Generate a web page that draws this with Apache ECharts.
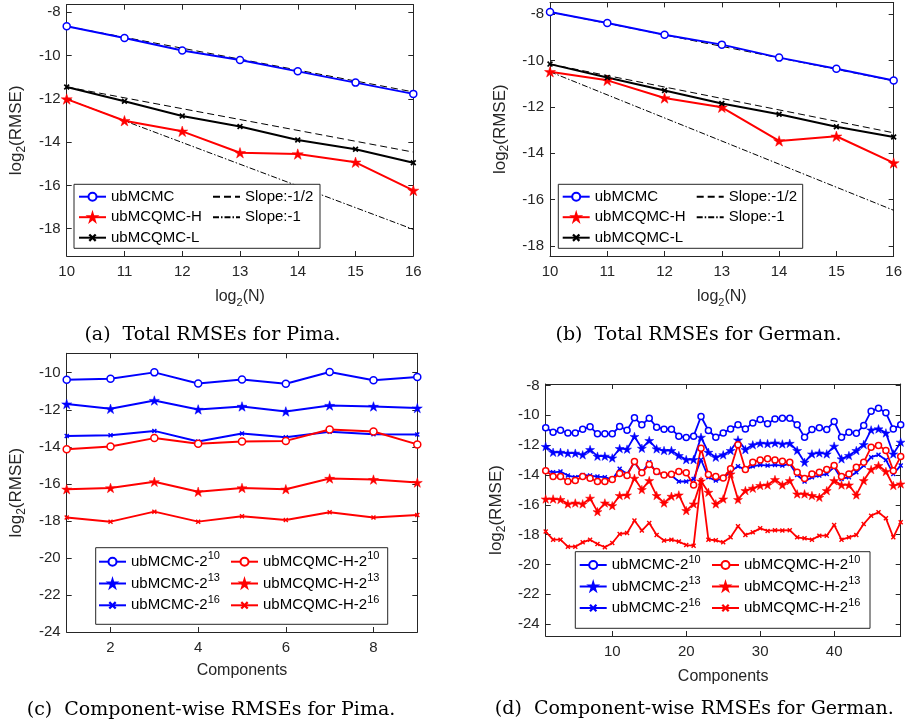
<!DOCTYPE html>
<html><head><meta charset="utf-8">
<script src="https://cdn.jsdelivr.net/npm/echarts@6/dist/echarts.min.js"></script>
<style>html,body{margin:0;padding:0;background:#fff}#c{width:905px;height:726px}</style>
</head><body><div id="c"></div>
<script>
// ---------------- data ----------------
const xN = [10, 11, 12, 13, 14, 15, 16];
const pimaMCMC = [-8.65, -9.19, -9.77, -10.20, -10.73, -11.25, -11.77];
const pimaQMCH = [-12.01, -13.01, -13.50, -14.49, -14.55, -14.93, -16.23];
const pimaQMCL = [-11.45, -12.11, -12.79, -13.28, -13.90, -14.33, -14.95];
const slopeX = [10, 16];
const pimaSlopeHalfA = [-8.65, -11.68];
const pimaSlopeHalfB = [-11.45, -14.46];
const pimaSlopeOne = [-12.01, -18.03];

const germanMCMC = [-7.91, -8.39, -8.89, -9.32, -9.88, -10.36, -10.87];
const germanQMCH = [-10.49, -10.86, -11.62, -12.02, -13.47, -13.27, -14.42];
const germanQMCL = [-10.16, -10.74, -11.30, -11.86, -12.32, -12.86, -13.30];
const germanSlopeHalfA = [-7.91, -10.88];
const germanSlopeHalfB = [-10.16, -13.12];
const germanSlopeOne = [-10.49, -16.46];

const pimaComp = [1, 2, 3, 4, 5, 6, 7, 8, 9];
const pimaMC10 = [-10.38, -10.32, -9.98, -10.58, -10.36, -10.59, -9.96, -10.40, -10.23];
const pimaMC13 = [-11.69, -11.95, -11.50, -11.98, -11.82, -12.09, -11.77, -11.82, -11.91];
const pimaMC16 = [-13.41, -13.37, -13.14, -13.71, -13.28, -13.48, -13.19, -13.32, -13.33];
const pimaQH10 = [-14.13, -13.98, -13.53, -13.84, -13.71, -13.68, -13.06, -13.17, -13.87];
const pimaQH13 = [-16.29, -16.22, -15.89, -16.43, -16.22, -16.29, -15.71, -15.77, -15.93];
const pimaQH16 = [-17.82, -18.04, -17.50, -18.04, -17.75, -17.95, -17.53, -17.82, -17.68];

const germanComp = [1,2,3,4,5,6,7,8,9,10,11,12,13,14,15,16,17,18,19,20,21,22,23,24,25,26,27,28,29,30,31,32,33,34,35,36,37,38,39,40,41,42,43,44,45,46,47,48,49];
const germanMC10 = [-10.84,-11.13,-11.00,-11.18,-11.18,-10.93,-10.77,-11.24,-11.24,-11.24,
  -10.75,-11.00,-10.17,-10.64,-10.19,-10.80,-10.93,-10.93,-11.40,-11.49,
  -11.40,-10.08,-11.02,-11.47,-11.18,-10.91,-10.64,-10.91,-10.51,-10.28,
  -10.57,-10.24,-10.19,-10.19,-10.64,-11.47,-10.95,-10.84,-10.95,-10.42,
  -11.47,-11.13,-11.20,-10.69,-9.72,-9.52,-9.83,-10.91,-10.64];
const germanMC13 = [-12.09,-12.48,-12.48,-12.54,-12.54,-12.65,-12.30,-12.74,-12.74,-12.86,
  -12.23,-12.27,-11.42,-12.21,-11.69,-12.25,-12.36,-12.36,-12.70,-12.97,
  -12.97,-11.47,-12.48,-12.81,-12.65,-12.36,-11.65,-12.30,-11.98,-11.87,
  -11.90,-11.85,-11.92,-11.88,-12.36,-13.15,-12.59,-12.52,-12.59,-12.07,
  -12.92,-12.70,-12.36,-11.96,-10.98,-10.91,-11.18,-12.59,-11.80];
const germanMC16 = [-13.71,-13.82,-13.77,-14.04,-14.15,-14.00,-14.04,-14.11,-14.15,-14.31,
  -13.59,-13.93,-13.15,-13.86,-13.15,-13.86,-13.97,-14.04,-14.44,-14.44,
  -14.27,-12.98,-14.15,-14.38,-14.22,-13.77,-13.42,-13.64,-13.42,-13.33,
  -13.37,-13.33,-13.37,-13.26,-14.00,-14.44,-14.15,-14.04,-13.93,-13.48,
  -14.27,-14.15,-13.82,-13.37,-12.81,-12.65,-12.99,-13.93,-13.37];
const germanQH10 = [-13.71,-14.11,-14.11,-14.44,-14.38,-14.11,-14.22,-14.44,-14.44,-14.31,
  -13.91,-14.04,-13.10,-13.86,-13.30,-13.77,-14.00,-13.95,-13.77,-13.86,
  -14.67,-12.21,-13.97,-14.11,-14.20,-13.59,-11.98,-13.64,-13.15,-12.99,
  -12.92,-12.99,-13.08,-13.15,-13.82,-14.24,-13.93,-13.82,-13.64,-13.37,
  -14.11,-13.93,-13.48,-13.15,-12.14,-12.03,-12.36,-13.71,-12.77];
const germanQH13 = [-15.61,-15.61,-15.65,-15.94,-15.88,-15.94,-15.56,-16.46,-15.88,-16.06,
  -15.38,-15.34,-14.22,-14.98,-14.38,-15.38,-15.88,-15.43,-15.34,-16.39,
  -15.94,-14.40,-15.16,-15.94,-15.61,-13.93,-15.65,-15.05,-14.89,-14.71,
  -14.67,-14.31,-14.67,-14.38,-15.27,-15.27,-15.38,-15.50,-15.05,-14.38,
  -14.67,-14.67,-15.34,-14.38,-13.64,-13.37,-13.77,-14.71,-14.60];
const germanQH16 = [-17.80,-18.34,-18.34,-18.81,-18.81,-18.52,-18.34,-18.63,-18.85,-18.56,
  -17.96,-17.89,-17.06,-17.73,-17.22,-18.02,-18.40,-18.34,-18.47,-18.70,
  -18.74,-14.35,-18.34,-18.38,-18.52,-18.18,-17.44,-18.02,-17.85,-17.58,
  -17.75,-17.70,-17.72,-17.70,-18.18,-18.25,-18.34,-18.07,-18.07,-17.35,
  -18.34,-18.18,-18.02,-17.29,-16.73,-16.50,-16.91,-18.18,-17.17];

// tick labels
const nTicks = [10, 11, 12, 13, 14, 15, 16];
const totalYTicks = [-18, -16, -14, -12, -10, -8];
const pimaCompXTicks = [2, 4, 6, 8];
const pimaCompYTicks = [-24, -22, -20, -18, -16, -14, -12, -10];
const germanCompXTicks = [10, 20, 30, 40];
const germanCompYTicks = [-24, -22, -20, -18, -16, -14, -12, -10, -8];

// ---------------- chart ----------------
const F = '"Liberation Sans", Arial, Helvetica, sans-serif';
const AX = '#262626';
const STAR = 'path://M50,0L61.23,34.55L97.55,34.55L68.17,55.9L79.39,90.45L50,69.1L20.61,90.45L31.83,55.9L2.45,34.55L38.77,34.55Z';
const XMARK = 'path://M0,2L2,0L5,3L8,0L10,2L7,5L10,8L8,10L5,7L2,10L0,8L3,5Z';
const BLUE = '#0000ff', RED = '#ff0000', BLACK = '#000000';
const zip = (xs, ys) => xs.map((x, i) => [x, ys[i]]);

const grids = [
  {left: 66.7, top: 4.7, width: 346.6, height: 251.3},
  {left: 550, top: 2.4, width: 346.7, height: 253.6},
  {left: 66.7, top: 353.3, width: 350.6, height: 278.7},
  {left: 545.7, top: 384, width: 355, height: 252}
];

function nameRich(size) {
  return {
    t: {fontSize: size, fontFamily: F, color: AX, lineHeight: 22},
    s: {fontSize: Math.round(size * 0.7), fontFamily: F, color: AX, lineHeight: 11, verticalAlign: 'bottom'}
  };
}

const xAxes = [], yAxes = [];
function addAxes(gi, o) {
  const base = (ticks, labels) => ({
    gridIndex: gi, type: 'value',
    axisLine: {show: true, onZero: false, lineStyle: {color: AX, width: 1}},
    axisTick: {show: true, inside: true, length: 5, customValues: ticks, lineStyle: {color: AX, width: 1}},
    axisLabel: {show: labels, customValues: ticks, color: AX, fontSize: 15, fontFamily: F},
    splitLine: {show: false}
  });
  xAxes.push(Object.assign(base(o.xTicks, true), {
    min: o.xMin, max: o.xMax, position: 'bottom',
    name: o.xName, nameLocation: 'middle', nameGap: o.xNameGap,
    nameTextStyle: {rich: nameRich(16)}
  }));
  xAxes[xAxes.length - 1].axisLabel.margin = 8;
  xAxes.push(Object.assign(base(o.xTicks, false), {min: o.xMin, max: o.xMax, position: 'top'}));
  yAxes.push(Object.assign(base(o.yTicks, true), {
    min: o.yMin, max: o.yMax, position: 'left',
    name: o.yName, nameLocation: 'middle', nameGap: o.yNameGap,
    nameTextStyle: {rich: nameRich(17)}
  }));
  yAxes[yAxes.length - 1].axisLabel.margin = 6;
  yAxes.push(Object.assign(base(o.yTicks, false), {min: o.yMin, max: o.yMax, position: 'right'}));
}
const yName = '{t|log}{s|2}{t|(RMSE)}';
addAxes(0, {xMin: 10, xMax: 16, xTicks: nTicks, yMin: -19.26, yMax: -7.65, yTicks: totalYTicks,
  xName: '{t|log}{s|2}{t|(N)}', xNameGap: 30, yName: yName, yNameGap: 39});
addAxes(1, {xMin: 10, xMax: 16, xTicks: nTicks, yMin: -18.43, yMax: -7.5, yTicks: totalYTicks,
  xName: '{t|log}{s|2}{t|(N)}', xNameGap: 30, yName: yName, yNameGap: 39});
addAxes(2, {xMin: 1, xMax: 9, xTicks: pimaCompXTicks, yMin: -24, yMax: -8.95, yTicks: pimaCompYTicks,
  xName: '{t|Components}', xNameGap: 28, yName: yName, yNameGap: 39});
addAxes(3, {xMin: 1, xMax: 49, xTicks: germanCompXTicks, yMin: -24.8, yMax: -7.9, yTicks: germanCompYTicks,
  xName: '{t|Components}', xNameGap: 30, yName: yName, yNameGap: 38});

const series = [];
function addLine(gi, name, xs, ys, color, kind, size, width, extra) {
  const s = {
    type: 'line', name: name, xAxisIndex: gi * 2, yAxisIndex: gi * 2,
    data: zip(xs, ys), lineStyle: {color: color, width: width},
    symbolSize: size, showSymbol: true, animation: false, z: 2,
    emphasis: {disabled: true}
  };
  if (kind === 'o') {
    s.symbol = 'circle';
    s.itemStyle = {color: '#ffffff', borderColor: color, borderWidth: 1.5};
  } else if (kind === 'star') {
    s.symbol = STAR; s.symbolKeepAspect = true;
    s.itemStyle = {color: color, borderColor: color, borderWidth: 0.5};
  } else if (kind === 'x') {
    s.symbol = XMARK;
    s.itemStyle = {color: color};
  } else {
    s.symbol = 'none';
    s.itemStyle = {color: color};
  }
  Object.assign(s, extra || {});
  if (extra && extra.lineType) { s.lineStyle.type = extra.lineType; delete s.lineType; }
  series.push(s);
}

// panel a
addLine(0, 'Slope:-1/2', slopeX, pimaSlopeHalfA, BLACK, 'none', 0, 1, {lineType: [7, 4]});
addLine(0, 'Slope:-1/2', slopeX, pimaSlopeHalfB, BLACK, 'none', 0, 1, {lineType: [7, 4]});
addLine(0, 'Slope:-1', slopeX, pimaSlopeOne, BLACK, 'none', 0, 1, {lineType: [6, 2, 1.5, 2]});
addLine(0, 'ubMCMC', xN, pimaMCMC, BLUE, 'o', 7, 2);
addLine(0, 'ubMCQMC-H', xN, pimaQMCH, RED, 'star', 11, 2);
addLine(0, 'ubMCQMC-L', xN, pimaQMCL, BLACK, 'x', 6, 2);
// panel b
addLine(1, 'Slope:-1/2', slopeX, germanSlopeHalfA, BLACK, 'none', 0, 1, {lineType: [7, 4]});
addLine(1, 'Slope:-1/2', slopeX, germanSlopeHalfB, BLACK, 'none', 0, 1, {lineType: [7, 4]});
addLine(1, 'Slope:-1', slopeX, germanSlopeOne, BLACK, 'none', 0, 1, {lineType: [6, 2, 1.5, 2]});
addLine(1, 'ubMCMC', xN, germanMCMC, BLUE, 'o', 7, 2);
addLine(1, 'ubMCQMC-H', xN, germanQMCH, RED, 'star', 11, 2);
addLine(1, 'ubMCQMC-L', xN, germanQMCL, BLACK, 'x', 6, 2);
// panel c
addLine(2, 'ubMCMC-2^10', pimaComp, pimaMC10, BLUE, 'o', 7, 2);
addLine(2, 'ubMCMC-2^13', pimaComp, pimaMC13, BLUE, 'star', 10, 2);
addLine(2, 'ubMCMC-2^16', pimaComp, pimaMC16, BLUE, 'x', 5, 2);
addLine(2, 'ubMCQMC-H-2^10', pimaComp, pimaQH10, RED, 'o', 7, 2);
addLine(2, 'ubMCQMC-H-2^13', pimaComp, pimaQH13, RED, 'star', 10, 2);
addLine(2, 'ubMCQMC-H-2^16', pimaComp, pimaQH16, RED, 'x', 5, 2);
// panel d
addLine(3, 'ubMCMC-2^10', germanComp, germanMC10, BLUE, 'o', 6, 1.8);
addLine(3, 'ubMCMC-2^13', germanComp, germanMC13, BLUE, 'star', 9, 1.8);
addLine(3, 'ubMCMC-2^16', germanComp, germanMC16, BLUE, 'x', 5, 1.8);
addLine(3, 'ubMCQMC-H-2^10', germanComp, germanQH10, RED, 'o', 6, 1.8);
addLine(3, 'ubMCQMC-H-2^13', germanComp, germanQH13, RED, 'star', 9, 1.8);
addLine(3, 'ubMCQMC-H-2^16', germanComp, germanQH16, RED, 'x', 5, 1.8);

function plainLegend(left, top, names) {
  return {
    left: left, top: top, orient: 'vertical', padding: 0, itemGap: 5.5,
    itemWidth: 27, itemHeight: 10, selectedMode: false, z: 60,
    textStyle: {fontFamily: F, fontSize: 15, color: '#000', lineHeight: 15},
    data: names
  };
}
function supLegend(left, top, names, gap) {
  return {
    left: left, top: top, orient: 'vertical', padding: 0, itemGap: gap,
    itemWidth: 27, itemHeight: 10, selectedMode: false, z: 60,
    formatter: function (n) { const p = n.split('^'); return '{b|' + p[0] + '}{s|' + p[1] + '}'; },
    textStyle: {
      fontFamily: F, fontSize: 15, color: '#000',
      rich: {
        b: {fontFamily: F, fontSize: 15, color: '#000', lineHeight: 22},
        s: {fontFamily: F, fontSize: 11, color: '#000', lineHeight: 11, verticalAlign: 'top'}
      }
    },
    data: names
  };
}
const legCol1 = ['ubMCMC', 'ubMCQMC-H', 'ubMCQMC-L'];
const legCol2 = ['Slope:-1/2', 'Slope:-1'];
const legCol2Items = legCol2.map(n => ({name: n, itemStyle: {opacity: 0}}));
const supCol1 = ['ubMCMC-2^10', 'ubMCMC-2^13', 'ubMCMC-2^16'];
const supCol2 = ['ubMCQMC-H-2^10', 'ubMCQMC-H-2^13', 'ubMCQMC-H-2^16'];

const legends = [
  plainLegend(78, 189.2, legCol1), plainLegend(212, 189.2, legCol2Items),
  plainLegend(561.7, 189.2, legCol1), plainLegend(695.7, 189.2, legCol2Items),
  supLegend(98, 550.7, supCol1, 3.3), supLegend(230, 550.7, supCol2, 3.3),
  supLegend(578.7, 554, supCol1, 3), supLegend(711, 554, supCol2, 3)
];

function box(x, y, w, h) {
  return {type: 'rect', z: 50, shape: {x: x, y: y, width: w, height: h},
    style: {fill: '#ffffff', stroke: AX, lineWidth: 1}};
}
function caption(x, y, t) {
  return {type: 'text', z: 50, x: x, y: y,
    style: {text: t, font: '19px "DejaVu Serif", "Liberation Serif", serif', fill: '#000',
      textAlign: 'center', textVerticalAlign: 'middle'}};
}

const option = {
  animation: false,
  backgroundColor: '#ffffff',
  grid: grids,
  xAxis: xAxes,
  yAxis: yAxes,
  legend: legends,
  series: series,
  graphic: [
    box(74, 184.3, 246, 64), box(558.3, 184.3, 244.4, 64),
    box(95.7, 547.7, 292, 76.6), box(575.3, 551.7, 294.7, 76.6),
    caption(212.5, 335, '(a)  Total RMSEs for Pima.'),
    caption(698.5, 335, '(b)  Total RMSEs for German.'),
    caption(211, 710, '(c)  Component-wise RMSEs for Pima.'),
    caption(694.3, 709, '(d)  Component-wise RMSEs for German.')
  ]
};
const chart = echarts.init(document.getElementById('c'));
chart.setOption(option);
</script>
</body></html>
